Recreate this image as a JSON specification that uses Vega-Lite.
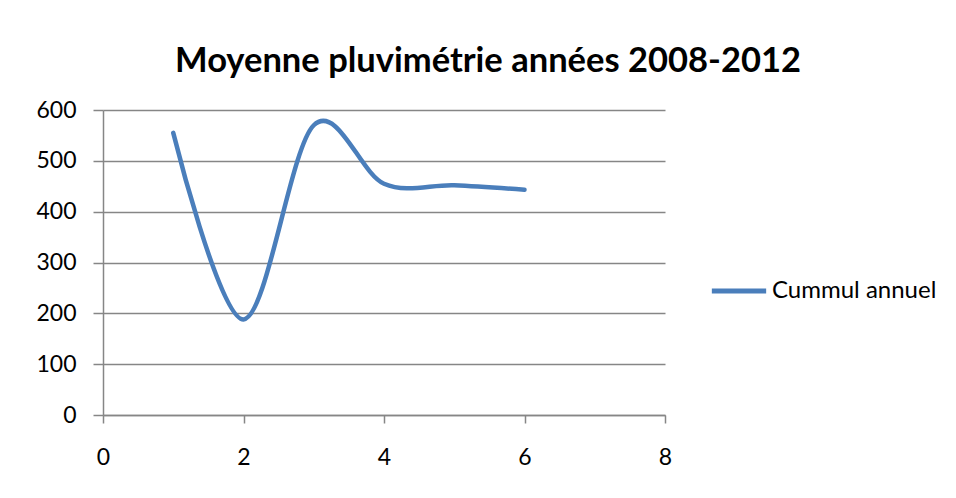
{
  "$schema": "https://vega.github.io/schema/vega-lite/v6.json",
  "width": 562,
  "height": 305,
  "autosize": {"type": "none"},
  "padding": {"left": 103, "top": 110, "right": 291, "bottom": 83},
  "background": "white",
  "title": {
    "text": "Moyenne pluvimétrie années 2008-2012",
    "font": "Lato",
    "fontSize": 34.5,
    "fontWeight": "bold",
    "color": "#000000",
    "anchor": "middle",
    "dx": 104,
    "offset": 20
  },
  "data": {
    "values": [
      {"x": 1, "y": 555, "serie": "Cummul annuel"},
      {"x": 2, "y": 188, "serie": "Cummul annuel"},
      {"x": 3, "y": 570, "serie": "Cummul annuel"},
      {"x": 4, "y": 455, "serie": "Cummul annuel"},
      {"x": 5, "y": 452, "serie": "Cummul annuel"},
      {"x": 6, "y": 443, "serie": "Cummul annuel"}
    ]
  },
  "mark": {"type": "line", "interpolate": "cardinal", "strokeWidth": 4.5, "strokeCap": "round"},
  "encoding": {
    "x": {
      "field": "x", "type": "quantitative",
      "scale": {"domain": [0, 8], "nice": false, "zero": false},
      "axis": {
        "title": null, "values": [0, 2, 4, 6, 8], "grid": false,
        "domainColor": "#868686", "domainWidth": 1.5,
        "tickColor": "#868686", "tickWidth": 1.5, "tickSize": 8,
        "labelFont": "Lato", "labelFontSize": 23, "labelColor": "#000000",
        "labelPadding": 23, "labelFlush": false
      }
    },
    "y": {
      "field": "y", "type": "quantitative",
      "scale": {"domain": [0, 600], "nice": false},
      "axis": {
        "title": null, "values": [0, 100, 200, 300, 400, 500, 600], "grid": true,
        "gridColor": "#868686", "gridWidth": 1.5, "gridOpacity": 1,
        "domainColor": "#868686", "domainWidth": 1.5,
        "tickColor": "#868686", "tickWidth": 1.5, "tickSize": 10,
        "labelFont": "Lato", "labelFontSize": 23, "labelColor": "#000000",
        "labelPadding": 17, "labelFlush": false
      }
    },
    "color": {
      "field": "serie", "type": "nominal",
      "scale": {"range": ["#4A7EBB"]},
      "legend": {
        "title": null, "orient": "none", "legendX": 606, "legendY": 151,
        "symbolType": "stroke", "symbolStrokeWidth": 5, "symbolSize": 2950,
        "labelFont": "Lato", "labelFontSize": 24, "labelColor": "#000000",
        "labelOffset": 3, "labelLimit": 400
      }
    }
  },
  "config": {"view": {"stroke": null}}
}
